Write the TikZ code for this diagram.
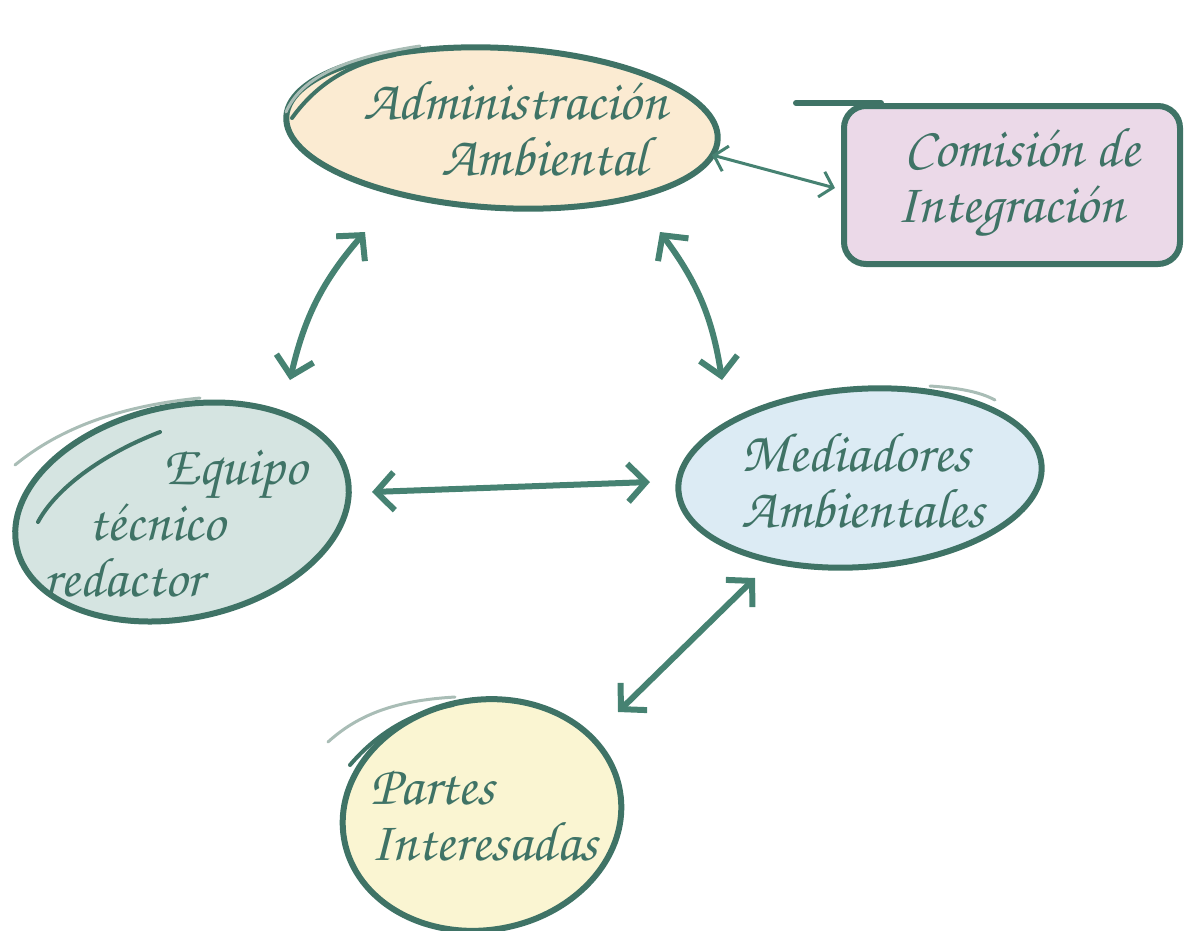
\documentclass[tikz,border=0pt]{standalone}
\usepackage[T1,TU]{fontenc}
\usepackage{tikz}
\usetikzlibrary{shapes.geometric,arrows.meta,calc}
\definecolor{ink}{HTML}{3F7366}
\definecolor{arrowink}{HTML}{468272}
\definecolor{inkfaint}{HTML}{A9BDB6}
\definecolor{admfill}{HTML}{FBEBD2}
\definecolor{comfill}{HTML}{EBD9E8}
\definecolor{eqfill}{HTML}{D5E4E1}
\definecolor{medfill}{HTML}{DCEBF4}
\definecolor{parfill}{HTML}{FAF5D2}
\newcommand\handfont{\fontencoding{T1}\fontfamily{pzc}\fontseries{mb}\fontshape{it}\fontsize{56}{56}\selectfont}
\tikzset{
  >=Stealth,
  bubble/.style={ellipse, draw=ink, line width=6pt, inner sep=0pt},
  board/.style={rectangle, rounded corners=22pt, draw=ink, line width=6pt},
  hand/.style={text=ink, font=\handfont, align=left, inner sep=0pt},
  link/.style={{Straight Barb[length=18pt,width=38pt]}-{Straight Barb[length=18pt,width=38pt]}, draw=arrowink, line width=6pt, line cap=round},
  thinlink/.style={{Straight Barb[length=12pt,width=26pt]}-{Straight Barb[length=12pt,width=26pt]}, draw=arrowink, line width=3pt, line cap=round},
  brush/.style={draw=ink, line width=4pt, line cap=round},
  faint/.style={draw=inkfaint, line width=3pt, line cap=round},
}
\begin{document}
\begin{tikzpicture}[x=1pt,y=-1pt]
\useasboundingbox (0,0) rectangle (1184,930);

% shapes
\node[bubble, fill=admfill, minimum width=432pt, minimum height=160pt, rotate=-3] (admin) at (502,128) {};
\node[board, fill=comfill, minimum width=336pt, minimum height=158pt] (comision) at (1012,185) {};
\node[bubble, fill=eqfill, minimum width=338pt, minimum height=212pt, rotate=12] (equipo) at (182,512) {};
\node[bubble, fill=medfill, minimum width=364pt, minimum height=178pt, rotate=4] (mediadores) at (860,478) {};
\node[bubble, fill=parfill, minimum width=280pt, minimum height=230pt, rotate=10] (partes) at (482,815) {};

% brush strokes
\draw[faint] (286,112) .. controls (300,80) and (340,58) .. (420,46);
\draw[brush] (292,118) .. controls (318,82) and (352,63) .. (395,55);
\draw[brush, line width=6pt] ([xshift=-45pt]comision.north west) -- ([xshift=40pt]comision.north west);
\draw[faint] (15,465) .. controls (60,428) and (120,406) .. (200,398);
\draw[brush] (160,432) .. controls (100,455) and (55,490) .. (38,522);
\draw[faint] (930,386) .. controls (960,388) and (980,392) .. (995,400);
\draw[faint] (328,742) .. controls (363,710) and (405,700) .. (455,697);
\draw[brush] (350,765) .. controls (380,730) and (415,712) .. (453,705);

% labels
\node[hand] (admintxt) at (515,128) {Administraci\'on\\\hspace*{78pt}Ambiental};
\node[hand] (comtxt) at (1018,183) {\hspace*{8pt}Comisi\'on de\\Integraci\'on};
\node[hand] (eqtxt) at (175,524) {\hspace*{120pt}Equipo\\\hspace*{45pt}t\'ecnico\\redactor};
\node[hand] (medtxt) at (863,480) {Mediadores\\Ambientales};
\node[hand] (partxt) at (484,816) {Partes\\Interesadas};

% connectors
\draw[thinlink] ([shift={(210,27)}]admin.center) -- ([shift={(-177,3)}]comision.center);
\draw[link] ([shift={(-137,104)}]admin.center) to[bend right=14] ([shift={(108,-132)}]equipo.center);
\draw[link] ([shift={(158,104)}]admin.center) to[bend left=14] ([shift={(-138,-98)}]mediadores.center);
\draw[link] ([shift={(190,-20)}]equipo.center) -- ([shift={(-210,4)}]mediadores.center);
\draw[link] ([shift={(-105,100)}]mediadores.center) -- ([shift={(136,-103)}]partes.center);
\end{tikzpicture}
\end{document}
